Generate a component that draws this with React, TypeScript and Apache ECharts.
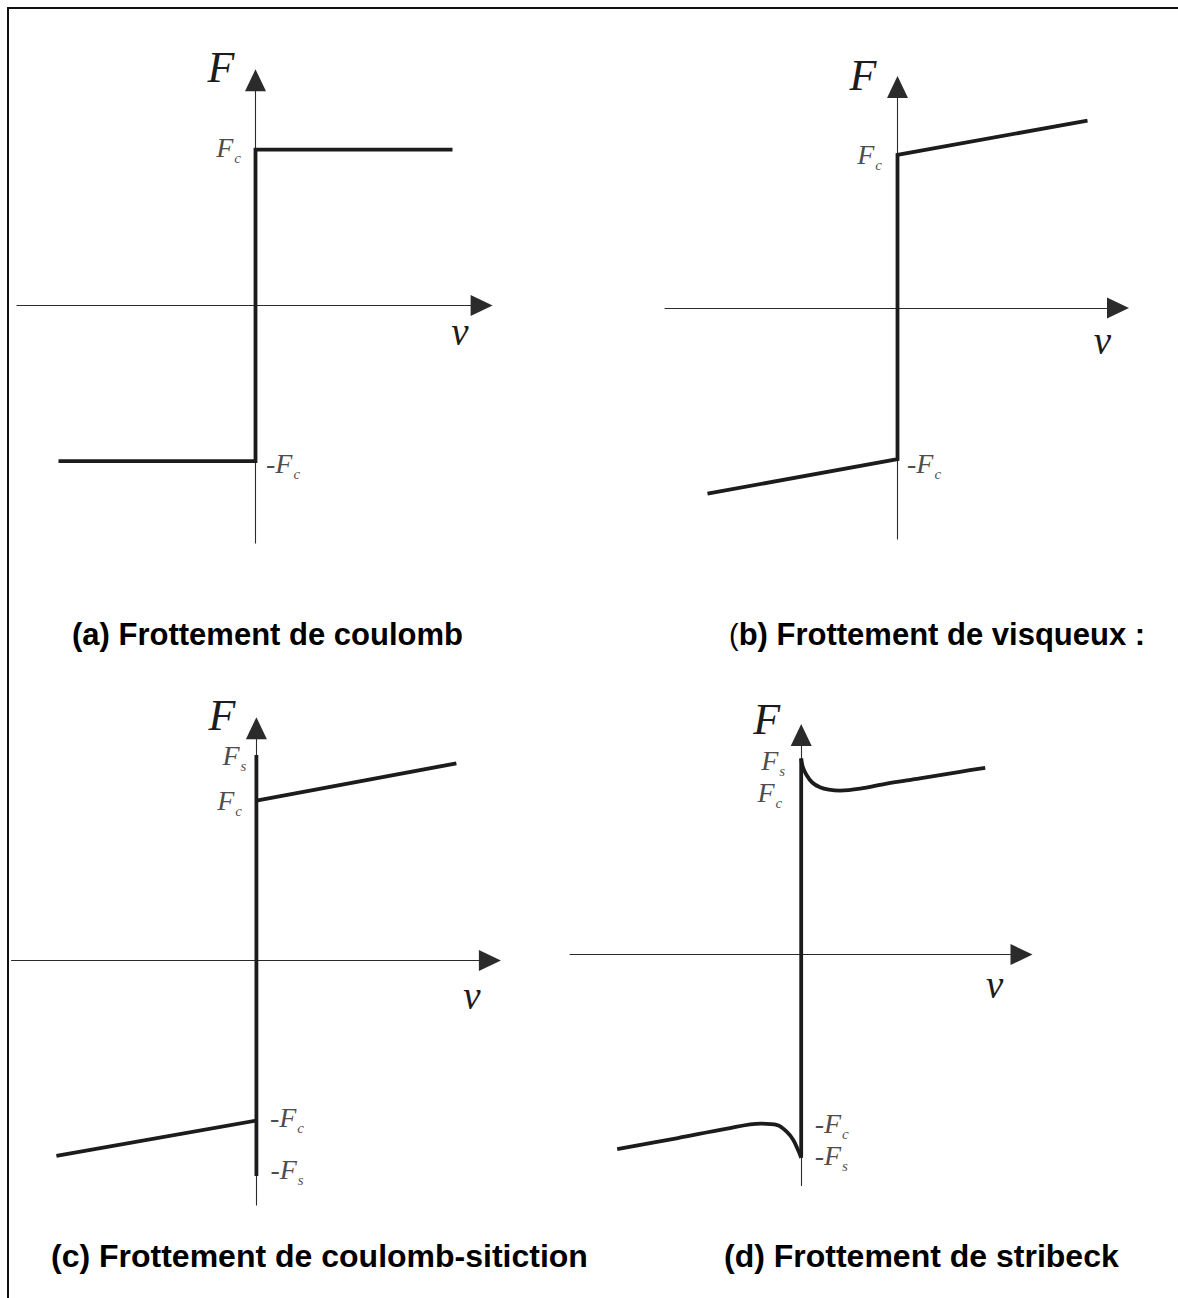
import React, { useEffect, useRef } from "react";
import * as echarts from "echarts";

// Friction force F against sliding velocity v, in units where Fc ≈ 1 and |v| ≤ 1.

// (a) Coulomb friction: F = Fc·sign(v)
const coulombV = [-1, 0, 0, 1];
const coulombF = [-1, -1, 1, 1];

// (b) Coulomb + viscous friction
const viscousV = [-1, 0, 0, 1];
const viscousF = [-1.214, -0.988, 1, 1.224];

// (c) Coulomb + stiction: breakaway segment from -Fs to Fs at v = 0
const stictionStickV = [0, 0];
const stictionStickF = [-1.346, 1.285];
const stictionUpperV = [0, 1];
const stictionUpperF = [1, 1.233];
const stictionLowerV = [-1, 0];
const stictionLowerF = [-1.221, -1];

// (d) Stribeck friction
const stribeckStickV = [0, 0];
const stribeckStickF = [-1.27, 1.225];
const stribeckUpperV = [0, 0.008, 0.028, 0.06, 0.102, 0.15, 0.211, 0.32, 0.464, 0.645, 0.863, 1];
const stribeckUpperF = [1.225, 1.175, 1.124, 1.075, 1.045, 1.03, 1.024, 1.036, 1.068, 1.101, 1.142, 1.167];
const stribeckLowerV = [-1, -0.67, -0.41, -0.22, -0.13, -0.079, -0.043, -0.017, 0];
const stribeckLowerF = [-1.216, -1.147, -1.09, -1.057, -1.066, -1.107, -1.159, -1.222, -1.27];
const stribeckCoulombF = [-1.06, 1.02];

const captions = [
  "(a) Frottement de coulomb",
  "(b) Frottement de visqueux :",
  "(c) Frottement de coulomb-sitiction",
  "(d) Frottement de stribeck",
];

const INK = "#1c1c1c";
const AXIS = "#2b2b2b";
const SERIF = "'Liberation Serif', 'Times New Roman', serif";
const SANS = "'Liberation Sans', Arial, sans-serif";

// Pixel layout of each panel: origin, pixels per unit, axis extents, and name placement.
type Frame = {
  ox: number; oy: number; kx: number; ky: number;
  left: number; right: number; top: number; bottom: number;
  vGap: number; vDrop: number; fGap: number;
};
const frames: Frame[] = [
  { ox: 255.5, oy: 305.4, kx: 197, ky: 155.7, left: 17, right: 481.6, top: 80.3, bottom: 543, vGap: -21.6, vDrop: 30.6, fGap: 12.5 },
  { ox: 897.5, oy: 307.9, kx: 190, ky: 153, left: 665, right: 1118, top: 87, bottom: 539, vGap: -15.5, vDrop: 36.8, fGap: 12 },
  { ox: 256.4, oy: 960.6, kx: 200, ky: 160, left: 11.5, right: 489.9, top: 728.2, bottom: 1205, vGap: -17.9, vDrop: 38.9, fGap: 12.8 },
  { ox: 801.2, oy: 954.5, kx: 184, ky: 160, left: 570, right: 1021.5, top: 735.1, bottom: 1185.5, vGap: -26.9, vDrop: 34.5, fGap: 16 },
];

const zip = (xs: number[], ys: number[]) => xs.map((x, i) => [x, ys[i]]);

const labelRich = {
  m: { fontFamily: SERIF, fontStyle: "italic", fontSize: 28, lineHeight: 28, verticalAlign: "top", color: INK },
  s: { fontFamily: SERIF, fontStyle: "italic", fontSize: 15, lineHeight: 15, verticalAlign: "top", padding: [17, 0, 0, 1], color: INK },
};

function curve(i: number, data: number[][], smooth: number | boolean = false) {
  return {
    type: "line",
    xAxisIndex: i,
    yAxisIndex: i,
    data,
    smooth,
    symbol: "none",
    showSymbol: false,
    clip: false,
    silent: true,
    lineStyle: { color: INK, width: 3.8, join: "miter", cap: "butt" },
    z: 3,
  };
}

type Mark = { name: string; value: number[]; side: "left" | "right"; distance: number; dy: number };

function marks(i: number, items: Mark[]) {
  return {
    type: "scatter",
    xAxisIndex: i,
    yAxisIndex: i,
    symbolSize: 1,
    silent: true,
    itemStyle: { color: "rgba(0,0,0,0)" },
    label: { show: true, formatter: (p: any) => p.name, rich: labelRich },
    data: items.map((m) => ({
      name: m.name,
      value: m.value,
      label: { position: m.side, distance: m.distance, offset: [0, m.dy] },
    })),
    z: 4,
  };
}

const axisLine = {
  show: true,
  onZero: true,
  symbol: ["none", "triangle"],
  symbolSize: [21, 22],
  lineStyle: { color: AXIS, width: 1.1 },
};

function buildOption() {
  const last = (a: number[]) => a[a.length - 1];
  const captionStyle = { fontFamily: SANS, fontWeight: "bold", fontSize: 31, color: "#000" };
  const captionStyleLower = { ...captionStyle, fontSize: 32 };
  return {
    animation: false,
    backgroundColor: "#ffffff",
    title: [
      { text: captions[0], left: 72, top: 619, padding: 0, textStyle: captionStyle },
      {
        text: "{p|(}{b|" + captions[1].slice(1) + "}",
        left: 729,
        top: 619,
        padding: 0,
        textStyle: {
          ...captionStyle,
          rich: {
            p: { fontFamily: SANS, fontWeight: "normal", fontSize: 29, color: "#000" },
            b: { fontFamily: SANS, fontWeight: "bold", fontSize: 31, color: "#000" },
          },
        },
      },
      { text: captions[2], left: 51, top: 1240, padding: 0, textStyle: captionStyleLower },
      { text: captions[3], left: 724, top: 1240, padding: 0, textStyle: captionStyleLower },
    ],
    graphic: [
      { type: "line", silent: true, shape: { x1: 7, y1: 8, x2: 1178, y2: 8 }, style: { stroke: "#111", lineWidth: 2 } },
      { type: "line", silent: true, shape: { x1: 8, y1: 7, x2: 8, y2: 1298 }, style: { stroke: "#111", lineWidth: 2 } },
    ],
    grid: frames.map((f) => ({
      left: f.left,
      top: f.top,
      width: f.right - f.left,
      height: f.bottom - f.top,
      show: false,
    })),
    xAxis: frames.map((f, i) => ({
      type: "value",
      gridIndex: i,
      min: (f.left - f.ox) / f.kx,
      max: (f.right - f.ox) / f.kx,
      axisLine,
      axisTick: { show: false },
      axisLabel: { show: false },
      splitLine: { show: false },
      name: "{v|v}",
      nameLocation: "end",
      nameGap: f.vGap,
      nameTextStyle: {
        align: "center",
        verticalAlign: "middle",
        rich: {
          v: {
            fontFamily: SERIF,
            fontStyle: "italic",
            fontSize: 39,
            color: INK,
            padding: [2 * (f.vDrop - 4.3), 0, 0, 0],
          },
        },
      },
    })),
    yAxis: frames.map((f, i) => ({
      type: "value",
      gridIndex: i,
      min: (f.oy - f.bottom) / f.ky,
      max: (f.oy - f.top) / f.ky,
      axisLine,
      axisTick: { show: false },
      axisLabel: { show: false },
      splitLine: { show: false },
      name: "{F|F}",
      nameLocation: "end",
      nameGap: f.fGap,
      nameTextStyle: {
        align: "right",
        verticalAlign: "middle",
        rich: {
          F: {
            fontFamily: SERIF,
            fontStyle: "italic",
            fontSize: 44,
            lineHeight: 34,
            color: INK,
            padding: [0, 21, 0, 0],
          },
        },
      },
    })),
    series: [
      // (a)
      curve(0, zip(coulombV, coulombF)),
      marks(0, [
        { name: "{m|F}{s|c}", value: [0, coulombF[2]], side: "left", distance: 14, dy: -2.5 },
        { name: "{m|-F}{s|c}", value: [0, coulombF[1]], side: "right", distance: 10, dy: 2 },
      ]),
      // (b)
      curve(1, zip(viscousV, viscousF)),
      marks(1, [
        { name: "{m|F}{s|c}", value: [0, viscousF[2]], side: "left", distance: 15, dy: 0 },
        { name: "{m|-F}{s|c}", value: [0, viscousF[1]], side: "right", distance: 9, dy: 4 },
      ]),
      // (c)
      curve(2, zip(stictionStickV, stictionStickF)),
      curve(2, zip(stictionUpperV, stictionUpperF)),
      curve(2, zip(stictionLowerV, stictionLowerF)),
      marks(2, [
        { name: "{m|F}{s|s}", value: [0, stictionStickF[1]], side: "left", distance: 9.5, dy: 0 },
        { name: "{m|F}{s|c}", value: [0, stictionUpperF[0]], side: "left", distance: 14, dy: 0 },
        { name: "{m|-F}{s|c}", value: [0, last(stictionLowerF)], side: "right", distance: 13, dy: -3.5 },
        { name: "{m|-F}{s|s}", value: [0, stictionStickF[0]], side: "right", distance: 13.5, dy: -6.5 },
      ]),
      // (d)
      curve(3, zip(stribeckStickV, stribeckStickF)),
      curve(3, zip(stribeckUpperV, stribeckUpperF), 0.35),
      curve(3, zip(stribeckLowerV, stribeckLowerF), 0.35),
      marks(3, [
        { name: "{m|F}{s|s}", value: [0, stribeckUpperF[0]], side: "left", distance: 15.5, dy: 1.5 },
        { name: "{m|F}{s|c}", value: [0, stribeckCoulombF[1]], side: "left", distance: 18.5, dy: 1.2 },
        { name: "{m|-F}{s|c}", value: [0, stribeckCoulombF[0]], side: "right", distance: 13, dy: -1 },
        { name: "{m|-F}{s|s}", value: [0, last(stribeckLowerF)], side: "right", distance: 13, dy: -2.7 },
      ]),
    ],
  };
}

export default function App() {
  const ref = useRef<HTMLDivElement>(null);
  useEffect(() => {
    if (!ref.current) return;
    const chart = echarts.init(ref.current, null, { renderer: "svg" });
    chart.setOption(buildOption() as any);
    return () => chart.dispose();
  }, []);
  return (
    <div
      ref={ref}
      style={{ position: "absolute", left: 0, top: 0, width: 1178, height: 1298, background: "#ffffff" }}
    />
  );
}
